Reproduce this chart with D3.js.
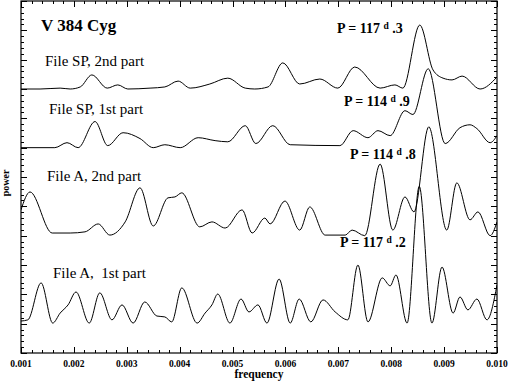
<!DOCTYPE html>
<html><head><meta charset="utf-8">
<script src="https://cdn.jsdelivr.net/npm/d3@7"></script>
<style>body{margin:0;background:#fff}svg{display:block}</style>
</head><body><svg id="c" width="509" height="382"></svg>
<script>
// frequencies in units of 0.001
const freqSP2 = [1.00,1.36,1.74,1.93,2.12,2.34,2.63,2.83,3.02,3.44,3.72,3.97,4.20,4.57,4.91,5.24,5.42,5.67,5.95,6.27,6.65,6.99,7.31,7.79,8.07,8.22,8.54,8.79,8.98,9.15,9.34,9.68,10.0];
const powSP2  = [0,0,0.03,0,0.07,0.48,0.03,0.14,0,0.03,0.07,0.27,0.03,0.17,0.37,0.03,0,0.07,0.89,0.17,0.34,0.03,0.75,0.03,0.14,0.03,2.18,0.65,0.37,0.31,0.44,0,0.41];

const freqSP1 = [1.00,1.64,1.87,2.08,2.40,2.64,2.93,3.25,3.50,3.72,4.01,4.35,4.67,4.91,5.24,5.44,5.76,6.09,7.03,7.28,7.56,7.75,7.98,8.26,8.41,8.70,9.02,9.30,9.49,9.62,9.87,10.0];
const powSP1  = [0,0,0.17,0,0.89,0.07,0.51,0.31,0,0.10,0,0.34,0.24,0.20,0.75,0.14,0.75,0.10,0.07,0.58,0.34,0.58,0.41,1.26,1.13,2.69,0.14,0.68,0.78,0.65,0.17,0.41];

const freqA2 = [1.00,1.17,1.59,1.93,2.21,2.46,2.68,2.97,3.25,3.50,3.78,3.91,4.04,4.38,4.61,4.86,5.18,5.37,5.61,5.71,5.99,6.27,6.46,6.75,7.13,7.26,7.50,7.79,8.03,8.26,8.43,8.71,9.05,9.24,9.49,9.64,9.87,10.0];
const powA2  = [0.88,1.49,0.09,0.09,0.13,0.40,0.02,0.47,1.63,0.33,1.29,1.32,1.46,0.30,0.47,0.26,0.88,0.09,0.60,0.40,1.18,0.19,0.98,0.02,0.02,0.19,0,2.44,0.19,1.32,0.81,3.71,0.19,1.80,0.54,0.81,0,0.47];

const freqA1 = [1.00,1.13,1.38,1.60,1.74,1.89,2.04,2.29,2.49,2.72,2.91,3.12,3.34,3.57,3.72,3.85,4.04,4.33,4.48,4.61,4.72,4.95,5.16,5.31,5.48,5.65,5.88,6.09,6.26,6.48,6.71,6.94,7.18,7.37,7.56,7.83,7.98,8.09,8.30,8.53,8.77,8.96,9.17,9.30,9.45,9.62,9.81,10.0];
const powA1  = [0.09,0.13,1.39,0.02,0.36,0.64,1.08,0.02,1.05,0.13,0.64,0.02,0.74,0.26,0.23,0.06,1.22,0.02,0.36,0.64,1.01,0.02,0.84,0.40,0.64,0.02,1.52,0.02,0.84,0.06,0.81,0.40,0.13,2.00,0.06,1.56,1.29,1.66,0.02,4.68,0.02,1.93,0.36,0.91,0.47,0.84,0.13,1.32];

const seriesNames = ["File SP, 2nd part","File SP, 1st part","File A, 2nd part","File A,\u00a0 1st part"];
const seriesOffsets = [9,7,4,1];
const periodInt = ["117","114","114","117"];
const periodDec = [".3",".9",".8",".2"];
const xTicks = [0.001,0.002,0.003,0.004,0.005,0.006,0.007,0.008,0.009,0.010];
const xTickLabels = ["0.001","0.002","0.003","0.004","0.005","0.006","0.007","0.008","0.009","0.010"];
const title = "V 384 Cyg";

const svg = d3.select("#c");
const L=21,R=497,T=1,B=353;
const x = d3.scaleLinear().domain([0.001,0.010]).range([L,R]);
const y = d3.scaleLinear().domain([0,12]).range([B,T]);

const series = [
  {f:freqSP2,p:powSP2},{f:freqSP1,p:powSP1},{f:freqA2,p:powA2},{f:freqA1,p:powA1}
];

svg.append("clipPath").attr("id","clip").append("rect").attr("x",L).attr("y",T).attr("width",R-L).attr("height",B-T);

const line = d3.line().x(d=>x(d[0])).y(d=>y(d[1])).curve(d3.curveMonotoneX);
series.forEach((s,i)=>{
  const pts = s.f.map((f,j)=>[f*1e-3, s.p[j]+seriesOffsets[i]]);
  svg.append("path").attr("d",line(pts)).attr("fill","none").attr("stroke","#000").attr("stroke-width",1).attr("clip-path","url(#clip)");
});

// frame
svg.append("rect").attr("x",L).attr("y",T).attr("width",R-L).attr("height",B-T).attr("fill","none").attr("stroke","#000").attr("stroke-width",1.2);

// ticks
const g = svg.append("g").attr("stroke","#000").attr("stroke-width",1);
const minorX = d3.range(0,46).map(i=>0.001+i*0.0002);
minorX.forEach((v,i)=>{
  const len = (i%5===0)?6:3;
  const xx = Math.round(x(v))+0.5;
  g.append("line").attr("x1",xx).attr("x2",xx).attr("y1",B).attr("y2",B-len);
  g.append("line").attr("x1",xx).attr("x2",xx).attr("y1",T).attr("y2",T+len);
});
d3.range(0,61).forEach(i=>{
  const v=i*0.2; const len=(i%5===0)?6:3;
  const yy=Math.round(y(v))+0.5;
  g.append("line").attr("x1",L).attr("x2",L+len).attr("y1",yy).attr("y2",yy);
  g.append("line").attr("x1",R).attr("x2",R-len).attr("y1",yy).attr("y2",yy);
});

const serif = "'Liberation Serif','Times New Roman',serif";
// tick labels
svg.append("g").selectAll("text").data(xTicks).join("text")
  .attr("x",d=>x(d)).attr("y",367).attr("text-anchor","middle")
  .attr("font-family",serif).attr("font-weight","bold").attr("font-size",9.5)
  .text((d,i)=>xTickLabels[i]);
svg.append("text").attr("x",259).attr("y",378).attr("text-anchor","middle")
  .attr("font-family",serif).attr("font-weight","bold").attr("font-size",11.5).text("frequency");
svg.append("text").attr("transform","translate(9,183) rotate(-90)").attr("text-anchor","middle")
  .attr("font-family",serif).attr("font-weight","bold").attr("font-size",10).text("power");

svg.append("text").attr("x",41).attr("y",31).attr("font-family",serif).attr("font-weight","bold").attr("font-size",17).text(title);

const nameX=[45,49,47,53], nameY=[66,114,181,278];
seriesNames.forEach((n,i)=>{
  svg.append("text").attr("x",nameX[i]).attr("y",nameY[i]).attr("font-family",serif).attr("font-size",15).text(n);
});

const pX=[337,344,350,340], pY=[33,106,159,247];
periodInt.forEach((p,i)=>{
  const t = svg.append("text").attr("x",pX[i]).attr("y",pY[i]).attr("font-family",serif).attr("font-weight","bold").attr("font-size",14);
  t.append("tspan").text("P = "+p+" ");
  t.append("tspan").attr("font-size",9.5).attr("dy",-4).text("d");
  t.append("tspan").attr("dy",4).text(" "+periodDec[i]);
});
</script></body></html>
